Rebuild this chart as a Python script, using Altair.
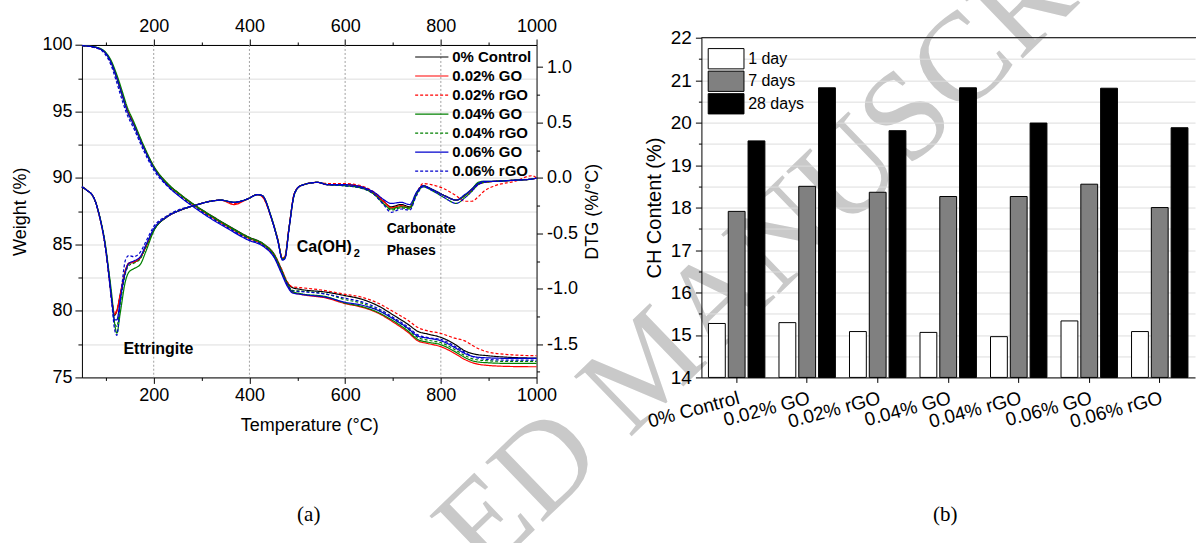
import altair as alt
import pandas as pd

# ---------------------------------------------------------------- samples
samples = ["0% Control", "0.02% GO", "0.02% rGO", "0.04% GO",
           "0.04% rGO", "0.06% GO", "0.06% rGO"]
line_colors = ["#000000", "#ff0000", "#ff0000", "#008000",
               "#008000", "#0000cc", "#0000cc"]
line_dashes = [[1, 0], [1, 0], [3, 2], [1, 0], [3, 2], [1, 0], [3, 2]]

# ---------------------------------------------------------------- TG (weight %)
tg_temp = [50, 75, 95, 110, 123, 134, 144, 158, 179, 200, 228, 256, 284, 319,
           354, 396, 431, 452, 466, 480, 490, 507, 563, 600, 633, 668, 703,
           731, 752, 773, 801, 829, 850, 871, 899, 948, 1000]
tg_ctrl = [99.95, 99.85, 99.55, 98.80, 97.55, 96.30, 95.20, 94.10, 92.35, 90.85,
           89.60, 88.75, 88.00, 87.20, 86.45, 85.60, 85.00, 84.25, 83.20, 82.10,
           81.75, 81.62, 81.40, 81.15, 80.90, 80.40, 79.64, 79.00, 78.46, 78.26,
           78.00, 77.50, 77.00, 76.75, 76.63, 76.50, 76.45]
tg_go02 = [99.95, 99.85, 99.55, 98.80, 97.55, 96.30, 95.20, 94.10, 92.35, 90.85,
           89.55, 88.70, 87.95, 87.10, 86.35, 85.50, 84.90, 84.10, 83.00, 81.90,
           81.40, 81.25, 80.95, 80.55, 80.30, 79.85, 79.10, 78.40, 77.75, 77.55,
           77.30, 76.80, 76.35, 76.05, 75.90, 75.82, 75.80]
tg_rgo02 = [99.95, 99.85, 99.55, 98.80, 97.55, 96.30, 95.20, 94.10, 92.35, 90.85,
            89.58, 88.72, 87.97, 87.15, 86.40, 85.55, 84.98, 84.25, 83.25, 82.15,
            81.80, 81.75, 81.50, 81.25, 81.05, 80.60, 79.90, 79.30, 78.75, 78.50,
            78.30, 77.95, 77.75, 77.30, 76.90, 76.70, 76.63]
tg_go04 = [99.95, 99.87, 99.60, 98.90, 97.75, 96.55, 95.40, 94.25, 92.45, 90.90,
           89.62, 88.75, 88.00, 87.18, 86.42, 85.58, 84.98, 84.20, 83.10, 82.00,
           81.45, 81.30, 81.05, 80.60, 80.35, 79.90, 79.20, 78.50, 77.85, 77.65,
           77.45, 76.95, 76.50, 76.20, 76.10, 76.05, 76.05]
tg_rgo04 = [99.95, 99.85, 99.55, 98.75, 97.45, 96.15, 95.05, 93.95, 92.25, 90.78,
            89.52, 88.68, 87.93, 87.10, 86.35, 85.50, 84.92, 84.15, 83.10, 82.00,
            81.55, 81.50, 81.25, 80.85, 80.60, 80.10, 79.35, 78.65, 78.00, 77.80,
            77.60, 77.10, 76.65, 76.35, 76.25, 76.20, 76.20]
tg_go06 = [99.95, 99.85, 99.55, 98.75, 97.50, 96.25, 95.10, 94.00, 92.25, 90.75,
           89.45, 88.55, 87.80, 86.95, 86.20, 85.35, 84.80, 84.00, 82.90, 81.80,
           81.35, 81.25, 81.00, 80.65, 80.45, 80.05, 79.35, 78.70, 78.10, 77.95,
           77.75, 77.25, 76.80, 76.55, 76.47, 76.43, 76.43]
tg_rgo06 = [99.95, 99.82, 99.45, 98.55, 97.15, 95.85, 94.80, 93.75, 92.05, 90.60,
            89.40, 88.58, 87.85, 87.02, 86.28, 85.42, 84.85, 84.05, 83.00, 81.95,
            81.50, 81.45, 81.25, 80.95, 80.70, 80.20, 79.45, 78.80, 78.20, 78.00,
            77.85, 77.35, 76.90, 76.50, 76.35, 76.30, 76.30]

# ---------------------------------------------------------------- DTG (%/°C)
dtg_temp = [50, 60, 75, 88, 99, 106, 113, 118, 123, 130,
            141, 148, 158, 172, 183, 200, 228, 256, 284, 319,
            340, 368, 396, 417, 427, 445, 459, 469, 474, 483,
            494, 507, 542, 563, 598, 633, 661, 682, 696, 717,
            735, 749, 763, 780, 808, 832, 850, 865, 878, 890,
            913, 955, 990, 1000]
dtg_ctrl = [-0.08, -0.11, -0.18, -0.37, -0.62, -0.86, -1.12, -1.24, -1.20, -1.05,
            -0.83, -0.77, -0.76, -0.72, -0.62, -0.47, -0.35, -0.29, -0.25, -0.21,
            -0.20, -0.22, -0.19, -0.15, -0.16, -0.35, -0.56, -0.73, -0.72, -0.44,
            -0.14, -0.07, -0.04, -0.06, -0.06, -0.08, -0.14, -0.22, -0.26, -0.24,
            -0.26, -0.14, -0.07, -0.10, -0.16, -0.20, -0.16, -0.10, -0.05, -0.04,
            -0.03, -0.02, -0.01, 0.00]
dtg_go02 = [-0.08, -0.11, -0.18, -0.37, -0.62, -0.86, -1.12, -1.23, -1.20, -1.06,
            -0.84, -0.77, -0.76, -0.72, -0.63, -0.47, -0.35, -0.29, -0.25, -0.21,
            -0.20, -0.24, -0.19, -0.15, -0.17, -0.35, -0.55, -0.73, -0.71, -0.44,
            -0.14, -0.07, -0.04, -0.06, -0.06, -0.08, -0.14, -0.22, -0.27, -0.25,
            -0.27, -0.14, -0.07, -0.10, -0.16, -0.20, -0.16, -0.11, -0.06, -0.04,
            -0.03, -0.02, -0.01, 0.00]
dtg_rgo02 = [-0.08, -0.11, -0.18, -0.37, -0.62, -0.86, -1.12, -1.22, -1.19, -1.05,
             -0.84, -0.77, -0.76, -0.72, -0.63, -0.47, -0.35, -0.29, -0.25, -0.21,
             -0.20, -0.23, -0.19, -0.15, -0.17, -0.35, -0.55, -0.72, -0.71, -0.44,
             -0.14, -0.07, -0.04, -0.05, -0.05, -0.07, -0.13, -0.21, -0.27, -0.26,
             -0.27, -0.14, -0.05, -0.06, -0.10, -0.16, -0.21, -0.21, -0.17, -0.12,
             -0.07, -0.03, 0.02, 0.00]
dtg_go04 = [-0.08, -0.11, -0.18, -0.36, -0.60, -0.83, -1.08, -1.30, -1.40, -1.22,
            -0.93, -0.85, -0.82, -0.78, -0.67, -0.48, -0.35, -0.29, -0.25, -0.21,
            -0.20, -0.22, -0.19, -0.15, -0.16, -0.34, -0.55, -0.73, -0.72, -0.45,
            -0.15, -0.07, -0.04, -0.06, -0.07, -0.09, -0.15, -0.24, -0.28, -0.26,
            -0.27, -0.14, -0.07, -0.10, -0.16, -0.20, -0.16, -0.10, -0.04, -0.03,
            -0.03, -0.02, -0.01, 0.00]
dtg_rgo04 = [-0.08, -0.11, -0.18, -0.37, -0.62, -0.86, -1.13, -1.30, -1.34, -1.14,
             -0.86, -0.79, -0.77, -0.73, -0.63, -0.47, -0.35, -0.29, -0.25, -0.21,
             -0.20, -0.22, -0.19, -0.15, -0.16, -0.35, -0.56, -0.73, -0.72, -0.44,
             -0.14, -0.07, -0.04, -0.06, -0.07, -0.09, -0.15, -0.24, -0.29, -0.27,
             -0.28, -0.15, -0.08, -0.11, -0.18, -0.23, -0.18, -0.12, -0.06, -0.04,
             -0.03, -0.02, -0.01, 0.00]
dtg_go06 = [-0.08, -0.11, -0.18, -0.37, -0.62, -0.86, -1.13, -1.28, -1.28, -1.10,
            -0.85, -0.77, -0.75, -0.71, -0.61, -0.46, -0.35, -0.29, -0.25, -0.21,
            -0.20, -0.22, -0.19, -0.15, -0.16, -0.35, -0.56, -0.74, -0.73, -0.45,
            -0.14, -0.07, -0.04, -0.06, -0.06, -0.08, -0.13, -0.20, -0.23, -0.22,
            -0.24, -0.13, -0.07, -0.10, -0.16, -0.20, -0.15, -0.10, -0.05, -0.03,
            -0.03, -0.02, -0.01, 0.00]
dtg_rgo06 = [-0.08, -0.11, -0.18, -0.37, -0.63, -0.88, -1.16, -1.36, -1.42, -1.12,
             -0.74, -0.70, -0.71, -0.67, -0.58, -0.44, -0.34, -0.28, -0.25, -0.21,
             -0.20, -0.22, -0.19, -0.15, -0.16, -0.35, -0.56, -0.74, -0.73, -0.45,
             -0.15, -0.07, -0.04, -0.06, -0.07, -0.09, -0.15, -0.25, -0.31, -0.28,
             -0.29, -0.16, -0.08, -0.11, -0.18, -0.23, -0.18, -0.12, -0.06, -0.04,
             -0.03, -0.02, -0.01, 0.00]

# ---------------------------------------------------------------- CH content (%)
days = ["1 day", "7 days", "28 days"]
day_fills = ["#ffffff", "#808080", "#000000"]
ch_1day = [15.27, 15.29, 15.08, 15.06, 14.96, 15.33, 15.08]
ch_7day = [17.91, 18.50, 18.36, 18.26, 18.26, 18.55, 18.00]
ch_28day = [19.57, 20.82, 19.81, 20.82, 19.99, 20.81, 19.88]

# ---------------------------------------------------------------- axis ticks
temp_ticks = [100, 200, 300, 400, 500, 600, 700, 800, 900, 1000]
weight_ticks = [75, 77.5, 80, 82.5, 85, 87.5, 90, 92.5, 95, 97.5, 100]
dtg_ticks = [-1.75, -1.5, -1.25, -1.0, -0.75, -0.5, -0.25, 0.0, 0.25, 0.5, 0.75, 1.0]
ch_ticks = [14, 14.5, 15, 15.5, 16, 16.5, 17, 17.5, 18, 18.5, 19, 19.5, 20,
            20.5, 21, 21.5, 22]
grid_temps = [200, 400, 600, 800]

# ---------------------------------------------------------------- tables
tg_series = [tg_ctrl, tg_go02, tg_rgo02, tg_go04, tg_rgo04, tg_go06, tg_rgo06]
dtg_series = [dtg_ctrl, dtg_go02, dtg_rgo02, dtg_go04, dtg_rgo04, dtg_go06, dtg_rgo06]

tg_df = pd.DataFrame([
    {"temp": t, "weight": w, "series": name}
    for name, vals in zip(samples, tg_series) for t, w in zip(tg_temp, vals)
])
dtg_df = pd.DataFrame([
    {"temp": t, "dtg": d, "series": name}
    for name, vals in zip(samples, dtg_series) for t, d in zip(dtg_temp, vals)
])
bar_df = pd.DataFrame([
    {"sample": s, "day": d, "ch": vals[i]}
    for i, s in enumerate(samples)
    for d, vals in zip(days, [ch_1day, ch_7day, ch_28day])
])

FONT = "Liberation Sans"
W_L, W_R, H = 455, 494, 340
TOP_GAP = 7.3  # left frame starts a little lower than the right one

# ---------------------------------------------------------------- shared encodings
color_enc = alt.Color("series:N", sort=samples,
                      scale=alt.Scale(domain=samples, range=line_colors), legend=None)
dash_enc = alt.StrokeDash("series:N", sort=samples,
                          scale=alt.Scale(domain=samples, range=line_dashes), legend=None)
x_scale = alt.Scale(domain=[50, 1000], nice=False, zero=False)

major_t = "datum.value % 200 === 0"
t_label = f"{major_t} ? format(datum.value, 'd') : ''"
x_bottom = alt.X("temp:Q", scale=x_scale, axis=alt.Axis(
    orient="bottom", values=temp_ticks, labelExpr=t_label,
    tickSize={"condition": {"test": major_t, "value": 6}, "value": 3},
    labelFontSize=18, labelPadding=3, grid=False,
    title="Temperature (°C)", titleFontSize=18, titlePadding=12))
x_top = alt.X("temp:Q", scale=x_scale, axis=alt.Axis(
    orient="top", values=temp_ticks, labelExpr=t_label,
    tickSize={"condition": {"test": major_t, "value": 6}, "value": 3},
    labelFontSize=18, labelPadding=3, grid=False, offset=-TOP_GAP, title=None))

major_w = "datum.value % 5 === 0"
y_weight = alt.Y("weight:Q", scale=alt.Scale(domain=[75, 100], range=[H, TOP_GAP],
                                              nice=False, zero=False),
                 axis=alt.Axis(orient="left", values=weight_ticks,
                               labelExpr=f"{major_w} ? format(datum.value, 'd') : ''",
                               tickSize={"condition": {"test": major_w, "value": 7}, "value": 4},
                               labelFontSize=18, labelPadding=3,
                               title="Weight (%)", titleFontSize=18, titlePadding=12))

major_d = "abs(datum.value * 2 - round(datum.value * 2)) < 0.01"
y_dtg = alt.Y("dtg:Q", scale=alt.Scale(domain=[-1.8, 1.2], range=[H, TOP_GAP],
                                        nice=False, zero=False),
              axis=alt.Axis(orient="right", values=dtg_ticks,
                            labelExpr=f"{major_d} ? replace(format(datum.value, '.1f'), '\u2212', '-') : ''",
                            tickSize={"condition": {"test": major_d, "value": 6}, "value": 3},
                            labelFontSize=18, labelPadding=4,
                            title="DTG (%/°C)", titleFontSize=18, titleAngle=270,
                            titleBaseline="top", titlePadding=6))

# ---------------------------------------------------------------- left panel (a)
# faint diagonal stamp running behind both panels
stamp = alt.Chart(pd.DataFrame({"t": ["ED MANUSCRI"]})).mark_text(
    font="Liberation Serif", fontSize=127, color="#c9c9c9", angle=316,
    align="center", baseline="middle"
).encode(x=alt.value(690), y=alt.value(211), text="t:N")

grid = alt.Chart(pd.DataFrame({"temp": grid_temps})).mark_rule(
    color="#8a8a8a", strokeWidth=0.8, strokeDash=[2, 2]
).encode(x=x_bottom, y=alt.value(TOP_GAP), y2=alt.value(H))

tg_lines = alt.Chart(tg_df).mark_line(strokeWidth=1.2, interpolate="monotone").encode(
    x=x_bottom, y=y_weight, color=color_enc, strokeDash=dash_enc)

tg_group = alt.layer(grid, tg_lines)

dtg_lines = alt.Chart(dtg_df).mark_line(strokeWidth=1.2, interpolate="monotone").encode(
    x=x_top, y=y_dtg, color=color_enc, strokeDash=dash_enc)

big_notes = pd.DataFrame({"temp": [136.7, 499], "dtg": [-1.54, -0.62],
                          "label": ["Ettringite", "Ca(OH)"]})
small_notes = pd.DataFrame({"temp": [687, 687], "dtg": [-0.46, -0.66],
                            "label": ["Carbonate", "Phases"]})
sub_note = pd.DataFrame({"temp": [618], "dtg": [-0.69], "label": ["2"]})

notes_big = alt.Chart(big_notes).mark_text(
    align="left", baseline="middle", fontSize=16, fontWeight="bold", color="black"
).encode(x=x_top, y=y_dtg, text="label:N")
notes_small = alt.Chart(small_notes).mark_text(
    align="left", baseline="middle", fontSize=14, fontWeight="bold", color="black"
).encode(x=x_top, y=y_dtg, text="label:N")
notes_sub = alt.Chart(sub_note).mark_text(
    align="left", baseline="middle", fontSize=11, fontWeight="bold", color="black"
).encode(x=x_top, y=y_dtg, text="label:N")

dtg_group = alt.layer(dtg_lines, notes_big, notes_small, notes_sub)

leg_y = alt.Y("series:N", sort=samples, axis=None,
              scale=alt.Scale(type="point", domain=samples, range=[19.3, 133.6], padding=0))
leg_df = pd.DataFrame({"series": samples})
leg_lines = alt.Chart(leg_df).mark_rule(strokeWidth=1.2).encode(
    x=alt.value(333.5), x2=alt.value(366.8), y=leg_y, color=color_enc, strokeDash=dash_enc)
leg_text = alt.Chart(leg_df).mark_text(
    align="left", baseline="middle", fontSize=15, fontWeight="bold", color="black"
).encode(x=alt.value(370.6), y=leg_y, text="series:N")
leg_group = alt.layer(leg_lines, leg_text)

tag_a = alt.Chart(pd.DataFrame({"t": ["(a)"]})).mark_text(
    font="Liberation Serif", fontSize=21, color="black", align="center", baseline="middle"
).encode(x=alt.value(227), y=alt.value(478), text="t:N")

left = alt.layer(stamp, tg_group, dtg_group, leg_group, tag_a).resolve_scale(
    y="independent").resolve_axis(x="independent").properties(width=W_L, height=H)

# ---------------------------------------------------------------- right panel (b)
fill_scale = alt.Scale(domain=days, range=day_fills)
major_c = "datum.value % 1 === 0"
bars = alt.Chart(bar_df).mark_bar(stroke="black", strokeWidth=1).encode(
    x=alt.X("sample:N", sort=samples,
            scale=alt.Scale(domain=samples, paddingInner=0.2, paddingOuter=0.1),
            axis=alt.Axis(labelAngle=345, labelAlign="right", labelBaseline="top",
                          labelFontSize=19, labelPadding=6, tickSize=5, title=None,
                          labelLimit=300)),
    xOffset=alt.XOffset("day:N", sort=days,
                        scale=alt.Scale(domain=days, paddingInner=0.15, paddingOuter=0)),
    y=alt.Y("ch:Q", scale=alt.Scale(domain=[14, 22], nice=False, zero=False),
            axis=alt.Axis(values=ch_ticks,
                          labelExpr=f"{major_c} ? format(datum.value, 'd') : ''",
                          tickSize={"condition": {"test": major_c, "value": 6}, "value": 3},
                          labelFontSize=19, labelPadding=4,
                          title="CH Content (%)", titleFontSize=20, titlePadding=6)),
    y2=alt.datum(14),
    fill=alt.Fill("day:N", sort=days, scale=fill_scale, legend=None),
)

top_line = alt.Chart(pd.DataFrame({"a": [0]})).mark_rule(color="black", strokeWidth=1).encode(
    x=alt.value(0), x2=alt.value(W_R + 1), y=alt.value(0))

day_df = pd.DataFrame({"day": days})
day_y = alt.Y("day:N", sort=days, axis=None,
              scale=alt.Scale(domain=days, range=[10.9, 76.3], paddingInner=0.1, paddingOuter=0))
day_boxes = alt.Chart(day_df).mark_rect(stroke="black", strokeWidth=1).encode(
    x=alt.value(6.8), x2=alt.value(42.6), y=day_y,
    fill=alt.Fill("day:N", sort=days, scale=fill_scale, legend=None))
day_text = alt.Chart(day_df).mark_text(
    align="left", baseline="middle", fontSize=16, color="black"
).encode(x=alt.value(46.8), y=day_y, text="day:N")
day_group = alt.layer(day_boxes, day_text)

tag_b = alt.Chart(pd.DataFrame({"t": ["(b)"]})).mark_text(
    font="Liberation Serif", fontSize=21, color="black", align="center", baseline="middle"
).encode(x=alt.value(244), y=alt.value(478), text="t:N")

right = alt.layer(bars, top_line, day_group, tag_b).resolve_scale(
    y="independent").properties(width=W_R, height=H)

# ---------------------------------------------------------------- figure
chart = alt.hconcat(left, right, spacing=165, bounds="flush").properties(
    padding={"left": 11, "top": -100.5, "right": 0, "bottom": -54}
).configure(font=FONT).configure_view(strokeWidth=0).configure_axis(
    labelFont=FONT, titleFont=FONT, labelColor="black", titleColor="black",
    domainColor="black", tickColor="black", domainWidth=1, tickWidth=1,
    titleFontWeight="normal", labelFlush=False, labelOverlap=False
)

chart.save("out.html", embed_options={"renderer": "svg", "actions": False})
